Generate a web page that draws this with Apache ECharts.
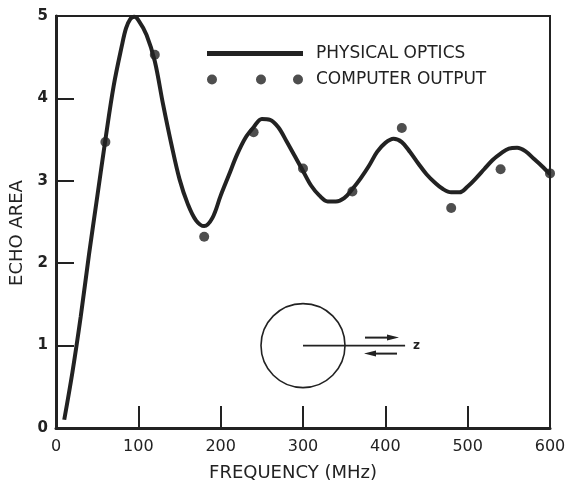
<!DOCTYPE html>
<html>
<head>
<meta charset="utf-8">
<script src="https://cdn.jsdelivr.net/npm/echarts@6/dist/echarts.min.js"></script>
<style>
html,body{margin:0;padding:0;background:#fff;}
#c{width:574px;height:490px;}
</style>
</head>
<body>
<div id="c"></div>
<script>
// Physical optics curve (frequency MHz, echo area)
const curveFreq = [10, 20, 30, 40, 50, 60, 70, 80, 85, 90, 95, 100, 110, 120, 130, 140, 150, 160, 170, 180, 190, 200,
                   210, 220, 230, 240, 250, 260, 270, 280, 290, 300, 310, 320, 330, 340, 350, 360, 370, 380, 390, 400,
                   410, 420, 430, 440, 450, 460, 470, 480, 490, 500, 510, 520, 530, 540, 550, 560, 570, 580, 590, 600];
const curveVal  = [0.10, 0.68, 1.35, 2.10, 2.80, 3.50, 4.15, 4.64, 4.85, 4.96, 4.99, 4.95, 4.77, 4.45, 3.93, 3.45, 3.02, 2.72, 2.52, 2.45, 2.55, 2.82,
                   3.07, 3.32, 3.52, 3.65, 3.75, 3.74, 3.65, 3.48, 3.30, 3.12, 2.94, 2.82, 2.75, 2.75, 2.79, 2.90, 3.03, 3.18, 3.35, 3.46,
                   3.51, 3.47, 3.35, 3.21, 3.08, 2.98, 2.90, 2.86, 2.86, 2.93, 3.03, 3.14, 3.25, 3.33, 3.39, 3.40, 3.36, 3.27, 3.18, 3.08];
// Computer output points
const dotFreq = [60, 120, 180, 240, 300, 360, 420, 480, 540, 600];
const dotVal  = [3.47, 4.53, 2.32, 3.59, 3.15, 2.87, 3.64, 2.67, 3.14, 3.09];
// Axis ticks
const xTicks = [0, 100, 200, 300, 400, 500, 600];
const yTicks = [0, 1, 2, 3, 4, 5];
const seriesNames = ['PHYSICAL OPTICS', 'COMPUTER OUTPUT'];

const ink = '#222';
const font = 'DejaVu Sans';
const chart = echarts.init(document.getElementById('c'), null, {renderer: 'canvas'});

const thickLine = 'path://M0,0L96,0L96,5L0,5Z';
const threeDots = 'path://M0,5a5,5 0 1,0 10,0a5,5 0 1,0 -10,0Z M49,5a5,5 0 1,0 10,0a5,5 0 1,0 -10,0Z M86,5a5,5 0 1,0 10,0a5,5 0 1,0 -10,0Z';

chart.setOption({
  backgroundColor: '#fff',
  animation: false,
  grid: {left: 55, right: 24, top: 16, bottom: 62, show: true, borderColor: ink, borderWidth: 2, backgroundColor: 'transparent'},
  legend: {
    orient: 'vertical', left: 202, top: 40, itemWidth: 96, itemHeight: 10, itemGap: 9,
    textStyle: {fontFamily: font, fontSize: 17, color: ink, padding: [0, 0, 0, 8]},
    data: [
      {name: seriesNames[0], icon: thickLine},
      {name: seriesNames[1], icon: threeDots}
    ],
    selectedMode: false
  },
  xAxis: {
    type: 'value', min: xTicks[0], max: xTicks[xTicks.length - 1], interval: 100,
    name: 'FREQUENCY (MHz)', nameLocation: 'middle', nameGap: 36,
    nameTextStyle: {fontFamily: font, fontSize: 18, color: ink, padding: [0, 20, 0, 0]},
    axisLine: {lineStyle: {color: ink, width: 3}},
    axisTick: {inside: true, length: 22, lineStyle: {color: ink, width: 2}},
    axisLabel: {fontFamily: font, fontSize: 16, color: ink, margin: 11},
    splitLine: {show: false}
  },
  yAxis: {
    type: 'value', min: yTicks[0], max: yTicks[yTicks.length - 1], interval: 1,
    name: 'ECHO AREA', nameLocation: 'middle', nameGap: 30,
    nameTextStyle: {fontFamily: font, fontSize: 18, color: ink, padding: [0, 22, 0, 0]},
    axisLine: {show: true, lineStyle: {color: ink, width: 3}},
    axisTick: {show: true, inside: true, length: 18, lineStyle: {color: ink, width: 2}},
    axisLabel: {fontFamily: font, fontSize: 15, fontWeight: 'bold', color: ink, margin: 8},
    splitLine: {show: false}
  },
  series: [
    {
      name: seriesNames[0], type: 'line', smooth: 0.35, symbol: 'none',
      lineStyle: {color: ink, width: 4}, itemStyle: {color: ink},
      data: curveFreq.map((f, i) => [f, curveVal[i]]), z: 2
    },
    {
      name: seriesNames[1], type: 'scatter', symbol: 'circle', symbolSize: 10,
      itemStyle: {color: ink},
      data: dotFreq.map((f, i) => [f, dotVal[i]]), z: 3
    }
  ]
});

// Inset sketch: sphere with z axis and incident / reflected arrows
const c0 = chart.convertToPixel({gridIndex: 0}, [300, 1]);
const lineEnd = chart.convertToPixel({gridIndex: 0}, [424, 1]);
const cx = c0[0], cy = c0[1];
chart.setOption({
  graphic: [
    {type: 'circle', shape: {cx: cx, cy: cy, r: 42}, style: {fill: 'none', stroke: ink, lineWidth: 1.6}},
    {type: 'line', shape: {x1: cx, y1: cy, x2: lineEnd[0], y2: cy}, style: {stroke: ink, lineWidth: 1.6}},
    {type: 'text', x: lineEnd[0] + 8, y: cy, style: {text: 'z', fontFamily: font, fontSize: 12, fontWeight: 'bold', fill: ink, verticalAlign: 'middle'}},
    {type: 'line', shape: {x1: cx + 62, y1: cy - 8, x2: cx + 86, y2: cy - 8}, style: {stroke: ink, lineWidth: 2}},
    {type: 'polygon', shape: {points: [[cx + 96, cy - 8], [cx + 84, cy - 11], [cx + 84, cy - 5]]}, style: {fill: ink}},
    {type: 'line', shape: {x1: cx + 72, y1: cy + 8, x2: cx + 94, y2: cy + 8}, style: {stroke: ink, lineWidth: 2}},
    {type: 'polygon', shape: {points: [[cx + 61, cy + 8], [cx + 73, cy + 5], [cx + 73, cy + 11]]}, style: {fill: ink}}
  ]
});
</script>
</body>
</html>
